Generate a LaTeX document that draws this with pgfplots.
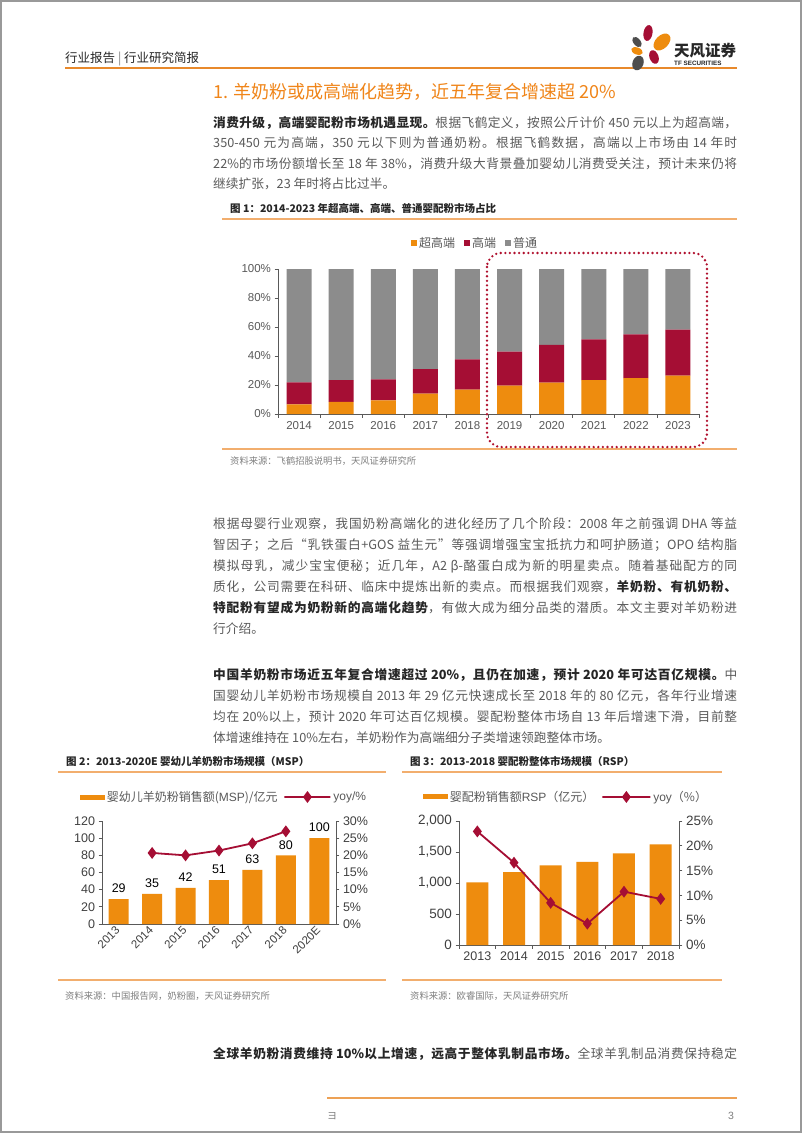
\documentclass[border=0pt]{standalone}
\usepackage{fontspec}
\setmainfont{Noto Sans CJK SC}
\newfontfamily\arial{Liberation Sans}
\usepackage{pgfplots}
\usepackage{pgfplotstable}
\pgfplotsset{compat=1.18}

\definecolor{tforange}{HTML}{EE8C0E}
\definecolor{tfred}{HTML}{A50E34}
\definecolor{tfgray}{HTML}{8C8C8C}
\definecolor{hdrorange}{HTML}{E8892B}
\definecolor{lineorange}{HTML}{F2AE6E}
\definecolor{titleorange}{HTML}{F08519}
\definecolor{bodygray}{HTML}{5A5A5A}
\definecolor{dark}{HTML}{262626}
\definecolor{axisgray}{HTML}{595959}
\definecolor{ticktext}{HTML}{404040}
\definecolor{srcgray}{HTML}{7F7F7F}
\definecolor{dotred}{HTML}{B0102E}
\definecolor{logogray}{HTML}{4D4D4D}

% inter-character glue for justified CJK lines
\ifdefined\newXeTeXintercharclass
  \newXeTeXintercharclass\cjkcls
\else
  \chardef\cjkcls=7
\fi
\newcount\cjkcnt
\newcommand\setcjkrange[2]{%
  \cjkcnt=#1
  \loop \XeTeXcharclass\cjkcnt=\cjkcls \advance\cjkcnt by 1 \ifnum\cjkcnt<#2 \repeat}
\setcjkrange{"4E00}{"A000}
\setcjkrange{"3000}{"3040}
\setcjkrange{"FF00}{"FFF0}
\XeTeXcharclass"201C=\cjkcls
\XeTeXcharclass"201D=\cjkcls
\XeTeXinterchartoks \cjkcls \cjkcls = {\hskip 0pt plus 2pt\relax}
\XeTeXinterchartoks 0 \cjkcls = {\hskip 0pt plus 1pt\relax}
\XeTeXinterchartoks \cjkcls 0 = {\hskip 0pt plus 1pt\relax}

\newcommand\bodyfont{\fontsize{12.7}{15}\selectfont}
\newcommand\jl[1]{\makebox[524pt][s]{\XeTeXinterchartokenstate=1 #1}}
\newcommand\B[1]{{\bfseries\color{dark}#1}}

\pgfplotsset{
 barlegend/.style={legend image code/.code={\fill[##1] (0pt,-2.5pt) rectangle (25pt,2.5pt);}},
 linelegend/.style={legend image code/.code={\draw[mark repeat=2,mark phase=2,##1] plot coordinates {(0pt,0pt)(13pt,0pt)(26pt,0pt)};}},
 sqlegend/.style={legend image code/.code={\fill[##1] (0pt,-3pt) rectangle (6pt,3pt);}},
}

\pgfplotstableread{
x super high normal
0 6.7 15.1 78.2
1 8.3 15.1 76.6
2 9.4 14.5 76.1
3 14.0 17.0 69.0
4 16.8 20.9 62.3
5 19.5 23.5 57.0
6 21.6 26.0 52.4
7 23.4 28.1 48.5
8 24.8 30.1 45.1
9 26.4 31.8 41.8
}\tblA

\pgfplotstableread{
x msp
0 29
1 35
2 42
3 51
4 63
5 80
6 100
}\tblB

\pgfplotstableread{
x yoy
1 20.7
2 20.0
3 21.4
4 23.5
5 27.0
}\tblByoy

\pgfplotstableread{
x rsp yoy
0 1011 22.9
1 1177 16.6
2 1285 8.5
3 1339 4.3
4 1478 10.75
5 1624 9.3
}\tblC

\begin{document}
\begin{tikzpicture}
\useasboundingbox (0,0) rectangle (802pt,-1133pt);
\fill[white] (0,0) rectangle (802pt,-1133pt);
\draw[gray!80, line width=2pt] (1pt,-1pt) rectangle (801pt,-1132pt);

% header
\node[anchor=base west, inner sep=0, text=dark, font=\fontsize{12.5}{14}\selectfont] at (65pt,-62pt) {行业报告 {\color{gray}|} 行业研究简报};
\draw[hdrorange, line width=1.5pt] (65pt,-68pt) -- (737pt,-68pt);
% logo
\fill[tfred, rotate around={-10:(648pt,-33pt)}] (648pt,-33pt) ellipse (4.5pt and 8pt);
\fill[logogray, rotate around={40:(637pt,-42pt)}] (637pt,-42pt) ellipse (3.5pt and 6pt);
\fill[tforange, rotate around={-45:(662pt,-42pt)}] (662pt,-42pt) ellipse (6.5pt and 10pt);
\fill[tforange, rotate around={70:(637pt,-51pt)}] (637pt,-51pt) ellipse (3.5pt and 6pt);
\fill[tfred, rotate around={20:(654pt,-57pt)}] (654pt,-57pt) ellipse (4.5pt and 7pt);
\fill[logogray, rotate around={-20:(638pt,-63pt)}] (638pt,-63pt) ellipse (5.5pt and 7.5pt);
\node[anchor=base west, inner sep=0, text=dark, font=\fontsize{15.5}{16}\selectfont\bfseries] at (674pt,-56pt) {天风证券};
\node[anchor=base west, inner sep=0, text=dark, font=\arial\fontsize{6.3}{7}\selectfont\bfseries] at (674pt,-65.5pt) {TF SECURITIES};

% title
\node[anchor=base west, inner sep=0, text=titleorange, font=\fontsize{18}{20}\selectfont] at (213pt,-98pt) {1. 羊奶粉或成高端化趋势，近五年复合增速超 20\%};

% paragraphs
\begin{scope}[every node/.style={anchor=base west, inner sep=0, text=bodygray, font=\bodyfont}]
\node at (213pt,-127pt) {\jl{\B{消费升级，高端婴配粉市场机遇显现。}根据飞鹤定义，按照公斤计价 450 元以上为超高端，}};
\node at (213pt,-147.5pt) {\jl{350-450 元为高端，350 元以下则为普通奶粉。根据飞鹤数据，高端以上市场由 14 年时}};
\node at (213pt,-168pt) {\jl{22\%的市场份额增长至 18 年 38\%，消费升级大背景叠加婴幼儿消费受关注，预计未来仍将}};
\node at (213pt,-188.5pt) {继续扩张，23 年时将占比过半。};

\node at (213pt,-528pt) {\jl{根据母婴行业观察，我国奶粉高端化的进化经历了几个阶段：2008 年之前强调 DHA 等益}};
\node at (213pt,-549pt) {\jl{智因子；之后“乳铁蛋白+GOS 益生元”等强调增强宝宝抵抗力和呵护肠道；OPO 结构脂}};
\node at (213pt,-570pt) {\jl{模拟母乳，减少宝宝便秘；近几年，A2 β-酪蛋白成为新的明星卖点。随着基础配方的同}};
\node at (213pt,-591pt) {\jl{质化，公司需要在科研、临床中提炼出新的卖点。而根据我们观察，\B{羊奶粉、有机奶粉、}}};
\node at (213pt,-612pt) {\jl{\B{特配粉有望成为奶粉新的高端化趋势}，有做大成为细分品类的潜质。本文主要对羊奶粉进}};
\node at (213pt,-633pt) {行介绍。};

\node at (213pt,-679pt) {\jl{\B{中国羊奶粉市场近五年复合增速超过 20\%，且仍在加速，预计 2020 年可达百亿规模。}中}};
\node at (213pt,-700pt) {\jl{国婴幼儿羊奶粉市场规模自 2013 年 29 亿元快速成长至 2018 年的 80 亿元，各年行业增速}};
\node at (213pt,-721pt) {\jl{均在 20\%以上，预计 2020 年可达百亿规模。婴配粉整体市场自 13 年后增速下滑，目前整}};
\node at (213pt,-742pt) {体增速维持在 10\%左右，羊奶粉作为高端细分子类增速领跑整体市场。};

\node at (213pt,-1058pt) {\jl{\B{全球羊奶粉消费维持 10\%以上增速，远高于整体乳制品市场。}全球羊乳制品消费保持稳定}};
\end{scope}

% captions and sources
\begin{scope}[every node/.style={anchor=base west, inner sep=0}]
\node[text=dark, font=\fontsize{10.5}{12}\selectfont\bfseries] at (230pt,-212pt) {图 1：2014-2023 年超高端、高端、普通婴配粉市场占比};
\node[text=dark, font=\fontsize{10.5}{12}\selectfont\bfseries] at (66pt,-765pt) {图 2：2013-2020E 婴幼儿羊奶粉市场规模（MSP）};
\node[text=dark, font=\fontsize{10.5}{12}\selectfont\bfseries] at (410pt,-765pt) {图 3：2013-2018 婴配粉整体市场规模（RSP）};
\node[text=srcgray, font=\fontsize{9.3}{11}\selectfont] at (230pt,-464.5pt) {资料来源：飞鹤招股说明书，天风证券研究所};
\node[text=srcgray, font=\fontsize{9.3}{11}\selectfont] at (65pt,-999.5pt) {资料来源：中国报告网，奶粉圈，天风证券研究所};
\node[text=srcgray, font=\fontsize{9.3}{11}\selectfont] at (410pt,-999.5pt) {资料来源：欧睿国际，天风证券研究所};
\node[text=srcgray, font=\fontsize{10}{11}\selectfont] at (327pt,-1119pt) {ヨ};
\node[text=srcgray, font=\arial\fontsize{10.5}{11}\selectfont] at (728pt,-1119pt) {3};
\end{scope}
\draw[lineorange, line width=1.3pt] (222pt,-219pt) -- (737pt,-219pt);
\draw[lineorange, line width=1.3pt] (222pt,-449pt) -- (737pt,-449pt);
\draw[lineorange, line width=1.3pt] (58pt,-772pt) -- (386pt,-772pt);
\draw[lineorange, line width=1.3pt] (58pt,-980pt) -- (386pt,-980pt);
\draw[lineorange, line width=1.3pt] (402pt,-772pt) -- (722pt,-772pt);
\draw[lineorange, line width=1.3pt] (402pt,-980pt) -- (722pt,-980pt);
\draw[hdrorange!80, line width=1.5pt] (327pt,-1098pt) -- (737pt,-1098pt);

% ---------------- chart 1
\begin{axis}[at={(278pt,-414pt)}, anchor=south west, scale only axis,
 width=421pt, height=145pt,
 ybar stacked, bar width=25pt,
 xmin=-0.5, xmax=9.5, ymin=0, ymax=100,
 axis x line*=bottom, axis y line*=left,
 axis line style={draw=axisgray, line width=0.8pt},
 xtick={-0.5,0.5,...,9.5}, x tick label as interval,
 xticklabels={2014,2015,2016,2017,2018,2019,2020,2021,2022,2023},
 ytick={0,20,...,100}, yticklabels={0\%,20\%,40\%,60\%,80\%,100\%},
 tick style={draw=axisgray, line width=0.8pt}, tick align=outside, major tick length=3.5pt,
 tick label style={font=\arial\fontsize{11.5}{12}\selectfont, text=axisgray},
 legend columns=3,
 legend style={draw=none, fill=none, at={(0.468,1.179)}, anchor=center,
   font=\fontsize{12}{13}\selectfont, text=axisgray,
   /tikz/every even column/.append style={column sep=7pt}},
 sqlegend,
]
\addplot[fill=tforange, draw=none] table[x=x, y=super] {\tblA};
\addlegendentry{超高端}
\addplot[fill=tfred, draw=none] table[x=x, y=high] {\tblA};
\addlegendentry{高端}
\addplot[fill=tfgray, draw=none] table[x=x, y=normal] {\tblA};
\addlegendentry{普通}
\end{axis}
\draw[dotred, line width=2.6pt, line cap=round, dash pattern=on 0pt off 4.6pt, rounded corners=14pt] (487pt,-253pt) rectangle (707pt,-447pt);

% ---------------- chart 2
\begin{axis}[at={(102pt,-924pt)}, anchor=south west, scale only axis,
 width=234pt, height=103pt,
 ybar, bar width=20pt,
 xmin=-0.5, xmax=6.5, ymin=0, ymax=120,
 axis x line*=bottom, axis y line*=left,
 axis line style={draw=axisgray, line width=0.8pt},
 xtick={0,...,6}, xticklabels={2013,2014,2015,2016,2017,2018,2020E},
 xtick style={draw=none},
 x tick label style={rotate=45, anchor=east, xshift=2pt, font=\arial\fontsize{11.5}{12}\selectfont},
 ytick={0,20,...,120},
 ytick style={draw=axisgray, line width=0.8pt}, tick align=outside, major tick length=3.5pt,
 /pgf/number format/assume math mode=true,
 tick label style={font=\arial\fontsize{12.5}{13}\selectfont, text=ticktext},
 nodes near coords,
 nodes near coords style={font=\arial\fontsize{12.5}{13}\selectfont, text=black, anchor=south, inner sep=0pt, yshift=6pt},
 legend columns=2,
 legend style={draw=none, fill=none, at={(0.521,1.233)}, anchor=center,
   font=\fontsize{12}{13}\selectfont, text=axisgray,
   /tikz/every even column/.append style={column sep=4pt}},
]
\addplot[fill=tforange, draw=none, barlegend] table[x=x, y=msp] {\tblB};
\addlegendentry{婴幼儿羊奶粉销售额({\arial MSP})/亿元}
\addlegendimage{tfred, line width=1.8pt, mark=diamond*, mark size=4.5pt, linelegend}
\addlegendentry{{\arial yoy/\%}}
\end{axis}
\begin{axis}[at={(102pt,-924pt)}, anchor=south west, scale only axis,
 width=234pt, height=103pt,
 xmin=-0.5, xmax=6.5, ymin=0, ymax=30,
 axis x line=none, axis y line*=right,
 axis line style={draw=axisgray, line width=0.8pt},
 ytick={0,5,...,30}, yticklabels={0\%,5\%,10\%,15\%,20\%,25\%,30\%},
 ytick style={draw=axisgray, line width=0.8pt}, tick align=outside, major tick length=3.5pt,
 tick label style={font=\arial\fontsize{12.5}{13}\selectfont, text=ticktext},
]
\addplot[tfred, line width=1.8pt, mark=diamond*, mark size=4.5pt] table[x=x, y=yoy] {\tblByoy};
\end{axis}

% ---------------- chart 3
\begin{axis}[at={(459pt,-945pt)}, anchor=south west, scale only axis,
 width=220pt, height=124pt,
 ybar, bar width=22pt,
 xmin=-0.5, xmax=5.5, ymin=0, ymax=2000,
 axis x line*=bottom, axis y line*=left,
 axis line style={draw=axisgray, line width=0.8pt},
 xtick={-0.5,0.5,...,5.5}, x tick label as interval,
 xticklabels={2013,2014,2015,2016,2017,2018},
 x tick label style={font=\arial\fontsize{12.5}{13}\selectfont},
 ytick={0,500,...,2000}, yticklabels={0,500,{1,000},{1,500},{2,000}},
 tick style={draw=axisgray, line width=0.8pt}, tick align=outside, major tick length=3.5pt,
 tick label style={font=\arial\fontsize{13.5}{14}\selectfont, text=ticktext},
 legend columns=2,
 legend style={draw=none, fill=none, at={(0.486,1.194)}, anchor=center,
   font=\fontsize{12}{13}\selectfont, text=axisgray,
   /tikz/every even column/.append style={column sep=5pt}},
]
\addplot[fill=tforange, draw=none, barlegend] table[x=x, y=rsp] {\tblC};
\addlegendentry{婴配粉销售额{\arial RSP}（亿元）}
\addlegendimage{tfred, line width=1.8pt, mark=diamond*, mark size=4.5pt, linelegend}
\addlegendentry{{\arial yoy}（\%）}
\end{axis}
\begin{axis}[at={(459pt,-945pt)}, anchor=south west, scale only axis,
 width=220pt, height=124pt,
 xmin=-0.5, xmax=5.5, ymin=0, ymax=25,
 axis x line=none, axis y line*=right,
 axis line style={draw=axisgray, line width=0.8pt},
 ytick={0,5,...,25}, yticklabels={0\%,5\%,10\%,15\%,20\%,25\%},
 ytick style={draw=axisgray, line width=0.8pt}, tick align=outside, major tick length=3.5pt,
 tick label style={font=\arial\fontsize{13.5}{14}\selectfont, text=ticktext},
]
\addplot[tfred, line width=1.8pt, mark=diamond*, mark size=4.5pt] table[x=x, y=yoy] {\tblC};
\end{axis}
\end{tikzpicture}
\end{document}
